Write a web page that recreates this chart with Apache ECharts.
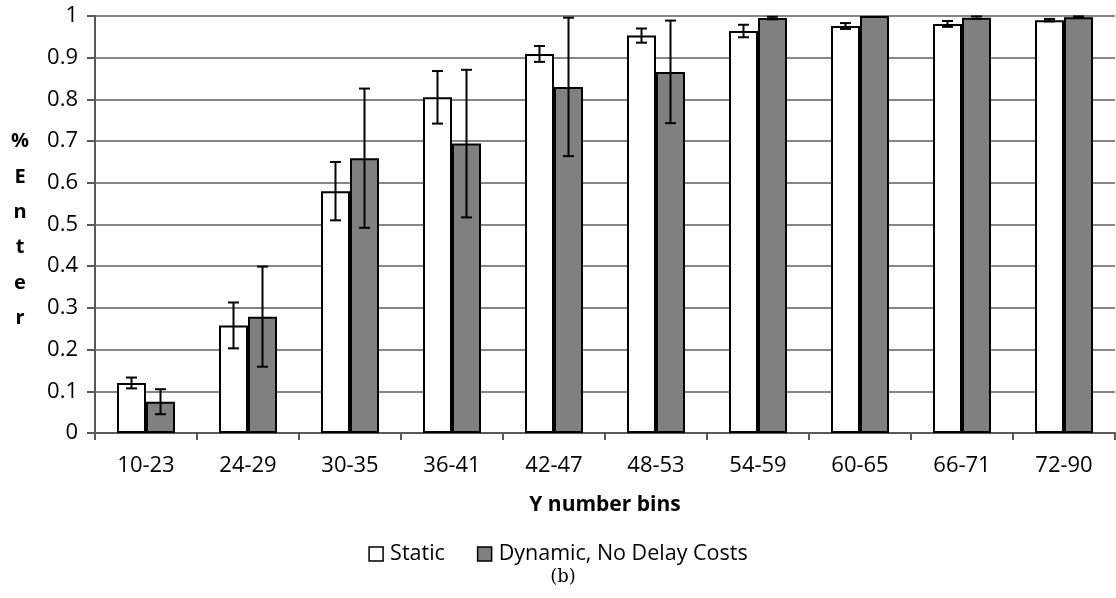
<!DOCTYPE html>
<html>
<head>
<meta charset="utf-8">
<script src="https://cdn.jsdelivr.net/npm/echarts@6/dist/echarts.min.js"></script>
<style>
  html, body { margin: 0; padding: 0; background: #fff; }
  #chart { width: 1116px; height: 598px; }
</style>
</head>
<body>
<div id="chart"></div>
<script>
// Share of entries per Y-number bin, with error bars
const categories = ['10-23', '24-29', '30-35', '36-41', '42-47', '48-53', '54-59', '60-65', '66-71', '72-90'];
const staticValues = [0.120, 0.258, 0.580, 0.805, 0.909, 0.953, 0.964, 0.976, 0.981, 0.990];
const staticErrors = [0.013, 0.055, 0.070, 0.063, 0.019, 0.017, 0.015, 0.007, 0.007, 0.003];
const dynamicValues = [0.075, 0.279, 0.659, 0.694, 0.830, 0.866, 0.995, 1.000, 0.996, 0.997];
const dynamicErrors = [0.030, 0.120, 0.167, 0.177, 0.166, 0.123, 0.003, 0.000, 0.003, 0.002];
const yTicks = [0, 0.1, 0.2, 0.3, 0.4, 0.5, 0.6, 0.7, 0.8, 0.9, 1];
const yTitle = '%Enter';

const BAR_W = 29;
const FONT = '"Open Sans", sans-serif';

function errorSeries(values, errors, side) {
  return {
    type: 'custom',
    silent: true,
    clip: false,
    z: 5,
    data: values.map((v, i) => [i, v, errors[i]]),
    renderItem: function (params, api) {
      const idx = api.value(0);
      const v = api.value(1);
      const e = api.value(2);
      if (!e) return null;
      const top = api.coord([idx, v + e]);
      const bot = api.coord([idx, v - e]);
      const x = top[0] + side * BAR_W / 2;
      const cap = 5.5;
      const style = { stroke: '#000', lineWidth: 2 };
      return {
        type: 'group',
        children: [
          { type: 'line', shape: { x1: x, y1: top[1], x2: x, y2: bot[1] }, style },
          { type: 'line', shape: { x1: x - cap, y1: top[1], x2: x + cap, y2: top[1] }, style },
          { type: 'line', shape: { x1: x - cap, y1: bot[1], x2: x + cap, y2: bot[1] }, style }
        ]
      };
    }
  };
}

const chart = echarts.init(document.getElementById('chart'));
chart.setOption({
  animation: false,
  backgroundColor: '#fff',
  grid: { left: 95, right: 1, top: 16, bottom: 165, containLabel: false },
  legend: {
    bottom: 28,
    left: 'center',
    itemWidth: 14,
    itemHeight: 14,
    itemGap: 32,
    icon: 'rect',
    textStyle: { fontFamily: FONT, fontSize: 21.5, color: '#000', padding: [0, 0, 0, 2] },
    data: [
      { name: 'Static', itemStyle: { color: '#fff', borderColor: '#000', borderWidth: 1.5 } },
      { name: 'Dynamic, No Delay Costs', itemStyle: { color: '#808080', borderColor: '#000', borderWidth: 1.5 } }
    ]
  },
  graphic: [
    {
      // vertical, letter-stacked y-axis title
      type: 'text',
      x: 20,
      y: 230,
      style: {
        text: yTitle.split('').join('\n'),
        font: 'bold 20px "Open Sans", sans-serif',
        lineHeight: 35.4,
        fill: '#000',
        align: 'center',
        verticalAlign: 'middle'
      }
    },
    {
      type: 'text',
      x: 563,
      y: 577,
      style: { text: '(b)', font: '18px "DejaVu Serif", serif', fill: '#000', align: 'center', verticalAlign: 'middle' }
    }
  ],
  xAxis: {
    type: 'category',
    data: categories,
    name: 'Y number bins',
    nameLocation: 'middle',
    nameGap: 62,
    nameTextStyle: { fontFamily: FONT, fontSize: 21, fontWeight: 'bold', color: '#000' },
    axisLine: { lineStyle: { color: '#595959', width: 2 } },
    axisTick: { show: true, length: 7, lineStyle: { color: '#595959', width: 2 } },
    axisLabel: { fontFamily: FONT, fontSize: 22, color: '#000', margin: 22 }
  },
  yAxis: {
    type: 'value',
    min: 0,
    max: 1,
    interval: 0.1,
    axisLine: { show: true, lineStyle: { color: '#595959', width: 2 } },
    axisTick: { show: true, length: 8, lineStyle: { color: '#595959', width: 2 } },
    axisLabel: {
      fontFamily: FONT, fontSize: 22, color: '#000', margin: 17,
      formatter: v => {
        const t = yTicks.find(t => Math.abs(t - v) < 1e-9);
        return t === undefined ? '' : String(t);
      }
    },
    splitLine: { show: true, lineStyle: { color: '#868686', width: 2 } }
  },
  series: [
    {
      name: 'Static',
      type: 'bar',
      data: staticValues,
      barWidth: BAR_W,
      barGap: '0%',
      itemStyle: { color: '#fff', borderColor: '#000', borderWidth: 2 }
    },
    {
      name: 'Dynamic, No Delay Costs',
      type: 'bar',
      data: dynamicValues,
      barWidth: BAR_W,
      barGap: '0%',
      itemStyle: { color: '#808080', borderColor: '#000', borderWidth: 2 }
    },
    errorSeries(staticValues, staticErrors, -1),
    errorSeries(dynamicValues, dynamicErrors, 1)
  ]
});
</script>
</body>
</html>
